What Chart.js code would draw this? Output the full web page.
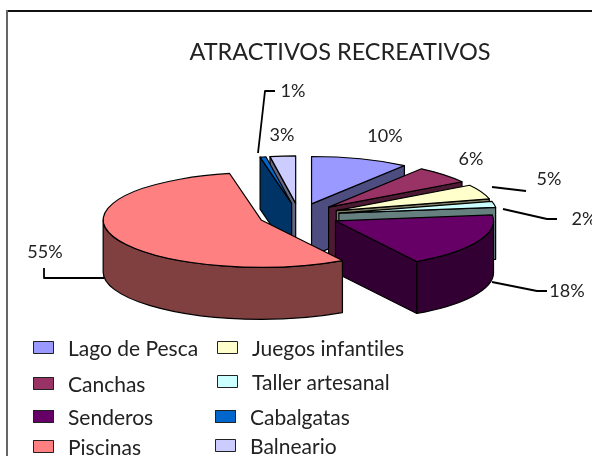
<!DOCTYPE html>
<html>
<head>
<meta charset="utf-8">
<title>Atractivos recreativos</title>
<script src="https://cdn.jsdelivr.net/npm/chart.js@4"></script>
<style>
  html, body { margin: 0; padding: 0; background: #fff; overflow: hidden; }
  canvas { display: block; }
</style>
</head>
<body>
<canvas id="pie" width="592" height="456"></canvas>
<script>
const chartTitle = 'ATRACTIVOS RECREATIVOS';
const categories = ['Lago de Pesca', 'Canchas', 'Juegos infantiles', 'Taller artesanal', 'Senderos', 'Piscinas', 'Cabalgatas', 'Balneario'];
// shares, the labels round them
const percents = [10, 6, 5, 2, 18.4, 55.4, 0.6, 2.6];
const topColors = ['#9999FF', '#993366', '#FFFFCC', '#CCFFFF', '#660066', '#FF8080', '#0066CC', '#CCCCFF'];
const wallColors = ['#4D4D80', '#4D1A33', '#808066', '#668080', '#330033', '#804040', '#003366', '#666680'];

// 3d look of the excel pie
const FLATTEN = 0.3;
const DEPTH = 52;
const EXPLODE = 40.6;
const drawOrder = [7, 6, 0, 1, 2, 3, 4, 5]; // back to front

const FONT = 'Lato, "Open Sans", sans-serif';
const TEXT_COLOR = '#222';

// label x, y per slice, same order as categories
const labelSpots = [[385, 136], [471, 159], [549, 179], [584, 219], [567, 291], [45, 252], [293, 91], [282, 135]];
const leaderLines = [
  [[258, 153], [265, 91], [275, 91]],
  [[492, 187], [526, 191]],
  [[503, 209], [547, 219], [557, 219]],
  [[492, 282], [537, 291], [547, 291]],
  [[44, 268], [44, 278], [104, 278]]
];
// column and row per legend entry
const legendSpots = [
  { box: 33, text: 68, y: 348 }, { box: 33, text: 68, y: 384 }, { box: 217, text: 252, y: 348 }, { box: 217, text: 252, y: 382 },
  { box: 33, text: 68, y: 417 }, { box: 33, text: 68, y: 447 }, { box: 215, text: 250, y: 417 }, { box: 215, text: 250, y: 446 }
];

function sliceShift(arc) {
  const mid = (arc.startAngle + arc.endAngle) / 2;
  return { x: arc.x + Math.cos(mid) * EXPLODE, y: arc.y + Math.sin(mid) * EXPLODE * FLATTEN };
}

function drawFace(ctx, arc, c, angle) {
  const ex = c.x + Math.cos(angle) * arc.outerRadius, ey = c.y + Math.sin(angle) * arc.outerRadius * FLATTEN;
  ctx.beginPath();
  ctx.moveTo(c.x, c.y);
  ctx.lineTo(ex, ey);
  ctx.lineTo(ex, ey + DEPTH);
  ctx.lineTo(c.x, c.y + DEPTH);
  ctx.closePath();
  ctx.fill();
  ctx.stroke();
}

function drawWalls(ctx, arc, c, color) {
  const r = arc.outerRadius, ry = r * FLATTEN;
  ctx.fillStyle = color;
  ctx.strokeStyle = '#000';
  ctx.lineWidth = 1.2;
  ctx.lineJoin = 'round';
  // cut faces, only when they look towards us
  if (Math.cos(arc.startAngle) < -0.001) drawFace(ctx, arc, c, arc.startAngle);
  if (Math.cos(arc.endAngle) > 0.001) drawFace(ctx, arc, c, arc.endAngle);
  // outer rim, only the part facing us
  const from = Math.max(arc.startAngle, 0), to = Math.min(arc.endAngle, Math.PI);
  if (to > from) {
    ctx.beginPath();
    ctx.ellipse(c.x, c.y, r, ry, 0, from, to);
    ctx.ellipse(c.x, c.y + DEPTH, r, ry, 0, to, from, true);
    ctx.closePath();
    ctx.fill();
    ctx.stroke();
  }
}

function drawTop(ctx, arc, c) {
  // library arc squashed into an ellipse
  ctx.save();
  ctx.translate(c.x, c.y);
  ctx.scale(1, FLATTEN);
  ctx.translate(-arc.x, -arc.y);
  arc.draw(ctx);
  ctx.restore();
  ctx.beginPath();
  ctx.moveTo(c.x, c.y);
  ctx.ellipse(c.x, c.y, arc.outerRadius, arc.outerRadius * FLATTEN, 0, arc.startAngle, arc.endAngle);
  ctx.closePath();
  ctx.strokeStyle = '#000';
  ctx.lineWidth = 1.2;
  ctx.stroke();
}

const pie3d = {
  id: 'pie3d',
  beforeDatasetsDraw(chart) {
    const ctx = chart.ctx;
    const arcs = chart.getDatasetMeta(0).data;
    drawOrder.forEach(i => {
      const c = sliceShift(arcs[i]);
      drawWalls(ctx, arcs[i], c, wallColors[i]);
      drawTop(ctx, arcs[i], c);
    });
    return false; // already drawn
  },
  afterDraw(chart) {
    const ctx = chart.ctx;
    ctx.save();
    // frame, cut off on the right and bottom in the source
    ctx.fillStyle = '#111';
    ctx.fillRect(6, 10, 586, 2);
    ctx.fillStyle = '#666';
    ctx.fillRect(6, 10, 2, 446);

    ctx.fillStyle = TEXT_COLOR;
    ctx.textBaseline = 'middle';
    ctx.textAlign = 'center';
    ctx.font = '23.5px ' + FONT;
    ctx.fillText(chartTitle, 340, 52);

    ctx.font = '18px ' + FONT;
    percents.forEach((v, i) => ctx.fillText(Math.round(v) + '%', labelSpots[i][0], labelSpots[i][1]));

    ctx.strokeStyle = '#000';
    ctx.lineWidth = 1.8;
    leaderLines.forEach(line => {
      ctx.beginPath();
      line.forEach((p, i) => i ? ctx.lineTo(p[0], p[1]) : ctx.moveTo(p[0], p[1]));
      ctx.stroke();
    });

    ctx.textAlign = 'left';
    ctx.font = '21px ' + FONT;
    ctx.textRendering = 'optimizeSpeed'; // no "ti" ligature
    categories.forEach((name, i) => {
      const s = legendSpots[i];
      ctx.fillStyle = topColors[i];
      ctx.fillRect(s.box, s.y - 7, 21, 13);
      ctx.strokeStyle = '#222';
      ctx.lineWidth = 1;
      ctx.strokeRect(s.box + 0.5, s.y - 6.5, 20, 12);
      ctx.fillStyle = TEXT_COLOR;
      ctx.fillText(name, s.text, s.y + 1);
    });
    ctx.restore();
  }
};

new Chart(document.getElementById('pie'), {
  type: 'pie',
  data: {
    labels: categories,
    datasets: [{
      data: percents,
      backgroundColor: topColors,
      borderWidth: 0
    }]
  },
  options: {
    responsive: false,
    animation: false,
    radius: 158,
    layout: { padding: { left: 6, right: 0, top: 0, bottom: 25 } },
    plugins: {
      legend: { display: false },
      title: { display: false },
      tooltip: { enabled: false }
    },
    events: []
  },
  plugins: [pie3d]
});
</script>
</body>
</html>
